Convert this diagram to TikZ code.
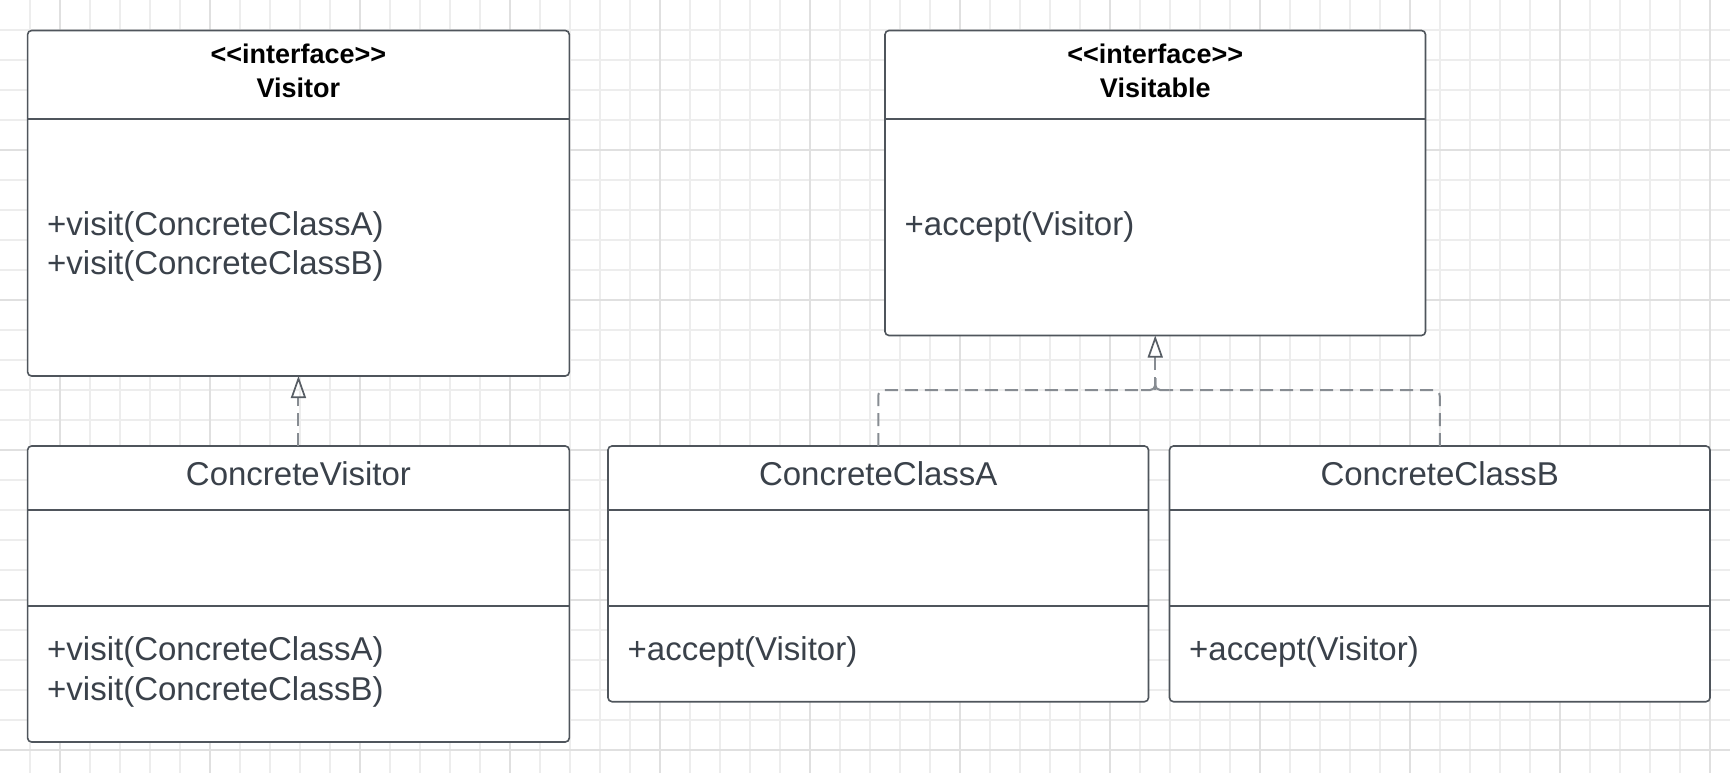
\documentclass[tikz,border=0pt]{standalone}
\usepackage{fontspec}
\setmainfont{Liberation Sans}[Ligatures=TeXOff]
\usetikzlibrary{arrows.meta}

\definecolor{gridminor}{HTML}{EDEDED}
\definecolor{gridmajor}{HTML}{E0E0E0}
\definecolor{boxline}{HTML}{4F555C}
\definecolor{txt}{HTML}{3A414A}
\definecolor{conn}{HTML}{878C92}

\begin{document}
\begin{tikzpicture}[
  x=1pt, y=-1pt,
  minorline/.style={draw=gridminor, line width=1.2pt},
  majorline/.style={draw=gridmajor, line width=1.5pt},
  umlbox/.style={draw=boxline, fill=white, line width=1.6pt, rounded corners=4pt,
                 inner sep=0pt, outer sep=0pt, anchor=north west},
  sepline/.style={draw=boxline, line width=1.6pt},
  stereo/.style={font=\bfseries\fontsize{27}{33}\selectfont, text=black, anchor=base, inner sep=0pt},
  title/.style={font=\fontsize{33}{40}\selectfont, text=txt, anchor=base, inner sep=0pt},
  member/.style={font=\fontsize{33}{40}\selectfont, text=txt, anchor=base west, inner sep=0pt},
  realize/.style={draw=conn, line width=2pt, dash pattern=on 13pt off 7pt},
  joint/.style={draw=conn, line width=2pt, rounded corners=5pt},
  hollowtip/.style={-{Triangle[open, length=22pt, width=15pt, line width=1.7pt, color=boxline!85!conn]}}
]
\useasboundingbox (0,0) rectangle (1730,773);
\fill[white] (0,0) rectangle (1730,773);

% background grid
\foreach \gx in {30,60,...,1710} \draw[minorline] (\gx,0) -- (\gx,773);
\foreach \gy in {30,60,...,750} \draw[minorline] (0,\gy) -- (1730,\gy);
\foreach \gx in {60,210,...,1710} \draw[majorline] (\gx,0) -- (\gx,773);
\foreach \gy in {150,300,...,750} \draw[majorline] (0,\gy) -- (1730,\gy);

% class boxes
\node[umlbox, minimum width=541.7pt, minimum height=345.5pt] (visitor)   at (27.6,30.5) {};
\node[umlbox, minimum width=541.7pt, minimum height=296pt]   (cvisitor)  at (27.6,446) {};
\node[umlbox, minimum width=540.5pt, minimum height=305pt]   (visitable) at (885,30.5) {};
\node[umlbox, minimum width=540.5pt, minimum height=255.7pt] (classa)    at (608,446) {};
\node[umlbox, minimum width=540.5pt, minimum height=255.7pt] (classb)    at (1169.5,446) {};

% compartment dividers
\draw[sepline] (visitor.west |- 0,119.3) -- (visitor.east |- 0,119.3);
\draw[sepline] (visitable.west |- 0,119.3) -- (visitable.east |- 0,119.3);
\foreach \bx in {cvisitor,classa,classb}{
  \draw[sepline] (\bx.west |- 0,510) -- (\bx.east |- 0,510);
  \draw[sepline] (\bx.west |- 0,606) -- (\bx.east |- 0,606);
}

% interface headers
\node[stereo] (visitorst)   at (298.45,64)  {<<interface>>};
\node[stereo] (visitornm)   at (298.45,97.5) {Visitor};
\node[stereo] (visitablest) at (1155.25,64)  {<<interface>>};
\node[stereo] (visitablenm) at (1155.25,97.5) {Visitable};

% class names
\node[title] (cvisitornm) at (298.45,485) {ConcreteVisitor};
\node[title] (classanm)   at (878.25,485) {ConcreteClassA};
\node[title] (classbnm)   at (1439.75,485) {ConcreteClassB};

% operations
\node[member] (visitora) at (47,235)   {+visit(ConcreteClassA)};
\node[member] (visitorb) at (47,274.5) {+visit(ConcreteClassB)};
\node[member] (visitableop) at (904.5,235) {+accept(Visitor)};
\node[member] (cvisitora) at (47,660.5) {+visit(ConcreteClassA)};
\node[member] (cvisitorb) at (47,700)   {+visit(ConcreteClassB)};
\node[member] (classaop) at (627.5,660.5) {+accept(Visitor)};
\node[member] (classbop) at (1189,660.5)  {+accept(Visitor)};

% realization: ConcreteVisitor -> Visitor
\draw[realize, hollowtip] (cvisitor.north) -- (visitor.south);

% realization: ConcreteClassA / ConcreteClassB -> Visitable
\coordinate (jn) at (1155.25,390);
\coordinate (jl) at (1141,390);
\coordinate (jr) at (1169.5,390);
\coordinate (jt) at (1155.25,378);
\draw[realize, rounded corners=6pt] (classa.north) |- (jl);
\draw[realize, rounded corners=6pt] (classb.north) |- (jr);
\draw[joint] (jl) -- (jn) -- (jt);
\draw[joint] (jr) -- (jn) -- (jt);
\draw[realize, hollowtip] (jn) -- (visitable.south);
\end{tikzpicture}
\end{document}
